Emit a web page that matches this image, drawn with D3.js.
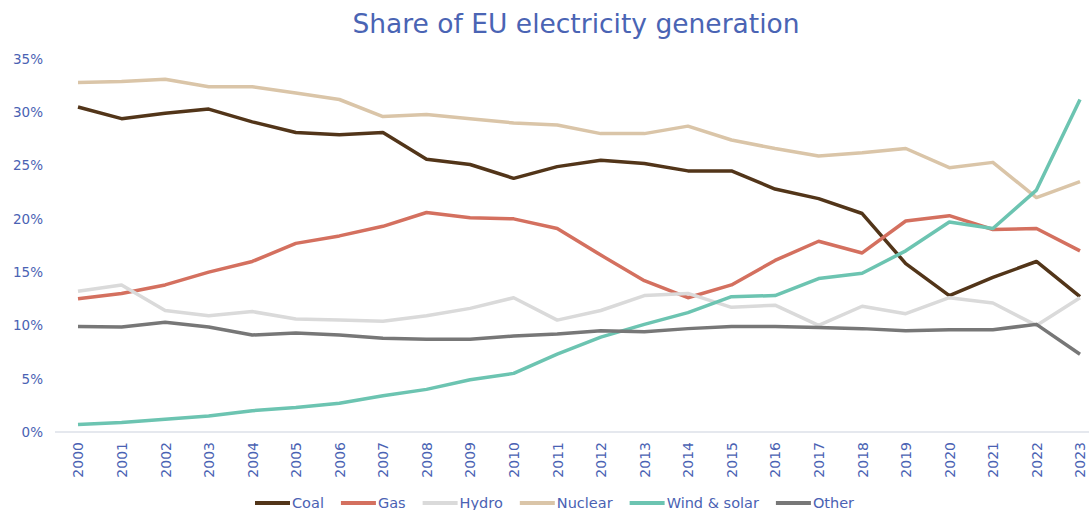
<html>
<script src="https://d3js.org/d3.v7.min.js"></script>
<style>
  body { margin: 0; background: #fff; }
  text { font-family: "DejaVu Sans", sans-serif; fill: #4a62b3; }
</style>
<body>
<div id="chart_area"></div>
</body>
<script>
var years = d3.range(2000, 2024);
var yTicks = [0, 5, 10, 15, 20, 25, 30, 35];

var coal    = [30.5, 29.4, 29.9, 30.3, 29.1, 28.1, 27.9, 28.1, 25.6, 25.1, 23.8, 24.9, 25.5, 25.2, 24.5, 24.5, 22.8, 21.9, 20.5, 15.8, 12.8, 14.5, 16.0, 12.7];
var gas     = [12.5, 13.0, 13.8, 15.0, 16.0, 17.7, 18.4, 19.3, 20.6, 20.1, 20.0, 19.1, 16.6, 14.2, 12.6, 13.8, 16.1, 17.9, 16.8, 19.8, 20.3, 19.0, 19.1, 17.0];
var hydro   = [13.2, 13.8, 11.4, 10.9, 11.3, 10.6, 10.5, 10.4, 10.9, 11.6, 12.6, 10.5, 11.4, 12.8, 13.0, 11.7, 11.9, 10.0, 11.8, 11.1, 12.6, 12.1, 10.0, 12.6];
var nuclear = [32.8, 32.9, 33.1, 32.4, 32.4, 31.8, 31.2, 29.6, 29.8, 29.4, 29.0, 28.8, 28.0, 28.0, 28.7, 27.4, 26.6, 25.9, 26.2, 26.6, 24.8, 25.3, 22.0, 23.5];
var windSolar = [0.7, 0.9, 1.2, 1.5, 2.0, 2.3, 2.7, 3.4, 4.0, 4.9, 5.5, 7.3, 8.9, 10.1, 11.2, 12.7, 12.8, 14.4, 14.9, 17.0, 19.7, 19.1, 22.7, 31.2];
var other   = [9.9, 9.85, 10.3, 9.85, 9.1, 9.3, 9.1, 8.8, 8.7, 8.7, 9.0, 9.2, 9.5, 9.4, 9.7, 9.9, 9.9, 9.8, 9.7, 9.5, 9.6, 9.6, 10.1, 7.3];

var seriesNames = ["Coal", "Gas", "Hydro", "Nuclear", "Wind & solar", "Other"];
var seriesValues = [coal, gas, hydro, nuclear, windSolar, other];
var colors = ["#523519", "#d4705f", "#dadada", "#dac5a8", "#6cc4b1", "#777777"];

var W = 1089, H = 510;
var svg = d3.select("#chart_area").append("svg").attr("width", W).attr("height", H);

// scales
var x = d3.scaleLinear().domain([2000, 2023]).range([78, 1080]);
var y = d3.scaleLinear().domain([0, 35]).range([432, 59]);

// title
svg.append("text").attr("x", 576).attr("y", 33).attr("text-anchor", "middle")
   .style("font-size", "26.5px").style("fill", "#4a64b4")
   .text("Share of EU electricity generation");

// y axis labels
var yAxis = svg.append("g").attr("transform", "translate(43,0)")
   .call(d3.axisLeft(y).tickValues(yTicks).tickSize(0).tickPadding(0).tickFormat(d => d + "%"));
yAxis.select(".domain").remove();
yAxis.selectAll("text").style("font-size", "13.5px").style("fill", "#4a62b3").style("font-family", "DejaVu Sans");

// x axis
var xAxis = svg.append("g").attr("transform", "translate(0,432)")
   .call(d3.axisBottom(x).tickValues(years).tickSize(0).tickFormat(d3.format("d")));
xAxis.select(".domain").remove();
svg.append("line").attr("x1", 55).attr("x2", W).attr("y1", 432).attr("y2", 432)
   .style("stroke", "#dde0e8").style("stroke-width", 1.5);
xAxis.selectAll("text")
   .attr("transform", "rotate(-90)")
   .attr("x", -10).attr("y", 0).attr("dy", "0.35em")
   .style("text-anchor", "end")
   .style("font-size", "14px").style("fill", "#4a62b3").style("font-family", "DejaVu Sans");

// lines
var line = d3.line().x((d, i) => x(years[i])).y(d => y(d));
seriesValues.forEach(function(vals, k) {
    svg.append("path").datum(vals)
       .attr("d", line)
       .style("fill", "none")
       .style("stroke", colors[k])
       .style("stroke-width", 3.5)
       .style("stroke-linejoin", "round");
});

// legend
var legend = svg.append("g").attr("transform", "translate(0,503)");
var lx = 255;
seriesNames.forEach(function(name, k) {
    legend.append("line").attr("x1", lx).attr("x2", lx + 35).attr("y1", 0).attr("y2", 0)
       .style("stroke", colors[k]).style("stroke-width", 4);
    var t = legend.append("text").attr("x", lx + 37).attr("y", 0).attr("dy", "0.35em")
       .style("font-size", "14.5px").text(name);
    lx += 37 + t.node().getComputedTextLength() + 17;
});
</script>
</html>
